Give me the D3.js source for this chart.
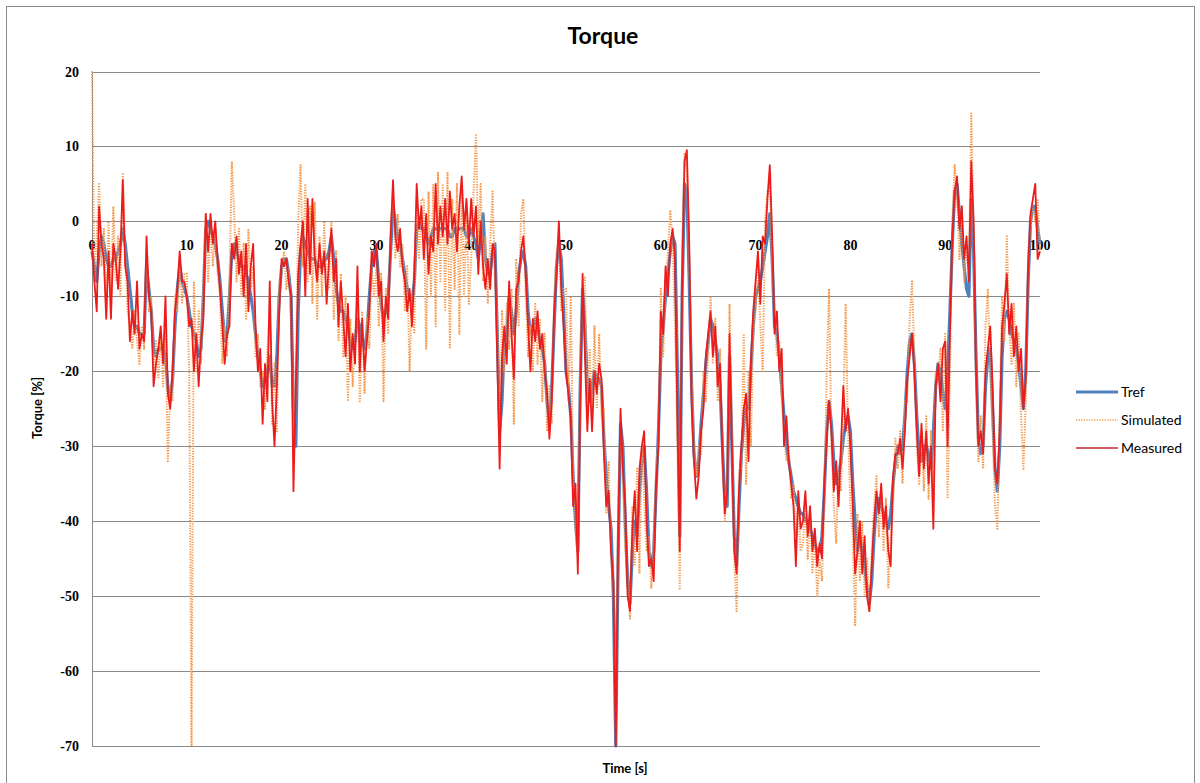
<!DOCTYPE html>
<html>
<head>
<meta charset="utf-8">
<script src="https://cdn.jsdelivr.net/npm/d3@7"></script>
<style>
  body { margin: 0; background: #fff; }
  text { fill: #000; }
</style>
</head>
<body>
<svg id="chart" width="1200" height="783"></svg>
<script>
// sample step of the recorded signals, seconds
const step = 0.25;

const seriesNames = ["Tref", "Simulated", "Measured"];
const xTicks = [0, 10, 20, 30, 40, 50, 60, 70, 80, 90, 100];
const yTicks = [20, 10, 0, -10, -20, -30, -40, -50, -60, -70];

const tref = [
  -4,-6,-8,-4,-2,-3,-5,-6,-6,-5,-5,-4,-3,-1,-3,-6,-9,-12,-14,-14,
  -15,-15,-15,-6,-9,-12,-17,-18,-17,-17,-17,-18,-22,-24,-21,-14,-9,-6,-8,-9,
  -10,-12,-14,-15,-16,-18,-17,-10,-1,0,-1,-2,-3,-5,-8,-12,-16,-15,-10,-4,
  -3,-4,-5,-6,-6,-7,-8,-10,-12,-15,-18,-20,-22,-21,-20,-18,-22,-22,-18,-10,
  -6,-5,-5,-7,-10,-25,-30,-12,-4,-2,-3,-4,-5,-5,-5,-6,-6,-6,-5,-5,
  -4,-2,-5,-9,-11,-12,-12,-13,-14,-16,-17,-16,-13,-14,-16,-17,-15,-10,-6,-4,
  -4,-8,-11,-13,-12,-10,-4,2,0,-2,-3,-5,-7,-9,-10,-11,-8,-1,0,-1,
  -1,-2,-3,-2,-1,-1,-1,-1,-1,-1,-1,-2,-2,-1,-1,-1,-1,-1,-2,-2,
  -1,-2,-3,-5,-2,1,-5,-7,-7,-4,-3,-15,-28,-24,-16,-15,-10,-12,-15,-12,
  -7,-5,-4,-6,-12,-15,-14,-13,-14,-16,-17,-19,-24,-27,-22,-14,-6,-3,-5,-12,
  -20,-22,-26,-34,-40,-44,-22,-9,-14,-22,-24,-22,-20,-21,-21,-22,-29,-34,-38,-41,
  -50,-70,-45,-27,-30,-40,-48,-51,-44,-40,-42,-36,-32,-30,-36,-44,-46,-44,-36,-28,
  -18,-14,-10,-7,-4,-2,-3,-20,-42,-10,5,4,-8,-22,-31,-34,-32,-27,-23,-19,
  -16,-13,-14,-16,-18,-22,-30,-37,-38,-18,-30,-42,-46,-38,-31,-27,-25,-25,-20,-14,
  -10,-9,-8,-6,-4,-2,1,-5,-14,-15,-18,-22,-26,-30,-32,-34,-36,-37,-38,-39,
  -39,-40,-40,-41,-42,-43,-44,-44,-42,-36,-28,-24,-27,-32,-35,-34,-32,-29,-27,-26,
  -28,-35,-40,-44,-42,-44,-46,-49,-51,-48,-42,-38,-37,-38,-39,-40,-41,-39,-35,-32,
  -30,-31,-30,-26,-20,-16,-15,-19,-26,-31,-32,-30,-30,-31,-33,-28,-22,-19,-20,-23,
  -25,-20,-12,-3,4,5,1,-3,-6,-9,-10,3,-4,-18,-29,-31,-30,-22,-18,-17,
  -25,-33,-36,-30,-18,-13,-12,-13,-15,-16,-17,-19,-22,-25,-20,-8,0,2,2,-1,
  -3
];

const simulated = [
  20,-8,-2,5,-6,-1,-12,0,-11,2,-8,-2,-10,6.5,-4,-12,-14,-17,-12,-16,
  -19,-14,-17,-4,-12,-10,-20,-16,-21,-15,-22,-14,-32,-22,-24,-10,-12,-6,-11,-7,
  -7,-20,-70,-8,-20,-12,-19,-8,1,-8,0,-6,-1,-7,-10,-19,-14,-18,-8,8,
  1,-8,-1,-10,-3,-13,-1,-9,-6,-18,-15,-22,-20,-25,-17,-12,-27,-19,-28,-8,
  -7,-4,-9,-6,-13,-30,-20,0,7.5,-6,5,-8,2,-11,2.5,-13,-2,-10,0,-9,
  -9,0,-13,-4,-16,-7,-18,-10,-24,-13,-22,-15,-9,-24,-12,-23,-13,-17,-6,-10,
  -6,-14,-7,-24,-9,-15,0,3,-5,1,-6,-3,-12,-6,-20,-10,-15,3,-5,3,
  3,-17,4,-10,5,-14,6.5,-8,5,-12,6.5,-17,3,-9,5,-15,4,-10,2,-11,
  -5,4,11.5,-3,5,-8,-2,-11,-3,4,-8,-13,-30,-12,-20,-11,-17,-9,-27,-5,
  -14,1,3,-10,-18,-14,-20,-11,-19,-13,-24,-15,-28,-22,-27,-10,-4,-2,-12,-9,
  -9,-24,-10,-33,-41,-45,-20,-8,-7.5,-25,-17,-27,-14,-25,-15,-26,-25,-39,-32,-45,
  -48,-62,-38,-27,-35,-44,-47,-53,-38,-46,-33,-47,-30,-37,-44,-42,-49,-43,-33,-29,
  -9,-18,-8,-4,1.5,-3,-14,-30,-49,-5,9,7,-5,-20,-30,-34,-30,-31,-20,-24,
  -18,-10,-19,-13,-24,-17,-32,-40,-34,-11,-28,-45,-52,-33,-33,-15,-35,-20,-30,-15,
  -12,-6,-14,-20,0,4,5,-8,-12,-18,-16,-24,-28,-32,-30,-37,-35,-42,-38,-44,
  -43,-38,-45,-39,-47,-42,-50,-45,-48,-38,-20,-9,-30,-38,-43,-33,-36,-25,-11,-28,
  -38,-42,-54,-39,-48,-40,-50,-45,-52,-44,-38,-34,-42,-36,-44,-37,-49,-42,-38,-29,
  -33,-28,-35,-24,-24,-13,-8,-18,-30,-35,-28,-36,-26,-37,-28,-39,-20,-21,-17,-28,
  -15,-37,-20,0,7.5,3,-5,2,-8,-4,-6,14.4,-2,-22,-32,-26,-33,-14,-9,-20,
  -28,-38,-41,-25,-10,-16,-2,-14,-19,-11,-22,-15,-26,-33,-24,-4,-1,2,0,3,
  -4
];

const measured = [
  -3,-8,-12,2,-3,-5,-13,-4,-13,-3,-5,-9,-4,5.5,-6,-8,-16,-12,-15,-8,
  -17,-15,-16,-2,-10,-12,-22,-19,-17,-14,-19,-10,-23,-25,-20,-12,-9,-4,-8,-8,
  -10,-14,-13,-20,-15,-22,-16,-13,1,-4,1,-3,0,-5,-9,-14,-19,-15,-14,-3,
  -5,-2,-7,-4,-10,-3,-12,-6,-3,-14,-20,-17,-27,-19,-24,-8,-24,-30,-22,-12,
  -5,-6,-5,-8,-10,-36,-22,-7,-3,0,-10,3,-7,3,-5,-8,-3,-7,-4,-11,
  -5,-1,-8,-5,-14,-8,-13,-18,-11,-20,-15,-19,-6,-20,-13,-20,-16,-12,-4,-6,
  -3,-10,-8,-16,-10,-13,-2,5.5,-2,-4,-1,-6,-8,-12,-9,-14,-7,5,-1,2,
  -5,1,-7,-2,-4,5,-3,2,-2,3,-3,4,-1,1,-4,2,6,-1,3,-3,
  3,-2,2,-7,0,-6,-9,-5,-9,-3,-4,-18,-33,-18,-14,-19,-8,-15,-21,-9,
  -8,-4,-2,-7,-14,-20,-13,-16,-12,-17,-15,-20,-23,-29,-24,-12,-7,0,-9,-14,
  -20,-23,-26,-38,-35,-47,-24,-7,-18,-28,-21,-28,-20,-23,-19,-21,-31,-38,-36,-44,
  -48,-70,-42,-25,-33,-38,-50,-52,-41,-36,-44,-33,-30,-28,-40,-46,-45,-48,-35,-30,
  -12,-15,-6,-10,-3,-1,-5,-26,-44,-8,8,9.5,-3,-24,-32,-37,-34,-28,-25,-18,
  -15,-12,-18,-14,-22,-19,-31,-39,-36,-15,-30,-44,-47,-36,-30,-25,-23,-32,-19,-12,
  -8,-4,-11,-2,-3,3,7.5,-2,-15,-12,-20,-17,-30,-26,-32,-35,-38,-46,-36,-41,
  -40,-36,-42,-38,-44,-41,-46,-43,-45,-35,-29,-24,-28,-36,-32,-38,-30,-22,-28,-25,
  -30,-38,-47,-44,-40,-47,-42,-50,-52,-46,-40,-36,-39,-35,-41,-38,-44,-46,-34,-31,
  -31,-29,-33,-28,-21,-18,-15,-20,-28,-34,-27,-33,-28,-35,-30,-41,-22,-19,-24,-17,
  -16,-30,-15,-2,4,6,-1,2,-5,-2,-8,8,0,-20,-30,-28,-31,-20,-17,-14,
  -22,-33,-35,-28,-14,-11,-7,-15,-11,-18,-14,-20,-17,-25,-21,-6,1,3,5,-5,
  -4
];

const svg = d3.select("#chart");

// outer chart frame
svg.append("rect")
    .attr("x", 6.5).attr("y", 6.5)
    .attr("width", 1188).attr("height", 800)
    .attr("fill", "#fff")
    .attr("stroke", "#8c8c8c");

const x = d3.scaleLinear().domain([0, 100]).range([92, 1040]);
const y = d3.scaleLinear().domain([-70, 20]).range([746, 71.5]);

// horizontal gridlines
svg.append("g")
    .selectAll("line")
    .data(yTicks)
    .join("line")
    .attr("x1", x(0)).attr("x2", x(100))
    .attr("y1", d => Math.round(y(d)) + 0.5)
    .attr("y2", d => Math.round(y(d)) + 0.5)
    .attr("stroke", "#8a8a8a")
    .attr("stroke-width", 1);

// value axis line
svg.append("line")
    .attr("x1", x(0) + 0.5).attr("x2", x(0) + 0.5)
    .attr("y1", y(20)).attr("y2", y(-70))
    .attr("stroke", "#8a8a8a");

svg.append("g")
    .selectAll("text")
    .data(yTicks)
    .join("text")
    .attr("x", 79)
    .attr("y", d => y(d) + 5)
    .attr("text-anchor", "end")
    .style("font-family", "'Liberation Serif', serif")
    .style("font-weight", "bold")
    .style("font-size", "14px")
    .text(d => d);

svg.append("g")
    .selectAll("text")
    .data(xTicks)
    .join("text")
    .attr("x", d => x(d))
    .attr("y", y(0) + 29)
    .attr("text-anchor", "middle")
    .style("font-family", "'Liberation Serif', serif")
    .style("font-weight", "bold")
    .style("font-size", "14px")
    .text(d => d);

function drawSeries(values, color, width, dash) {
    const line = d3.line()
        .x((d, i) => x(i * step))
        .y(d => y(d));
    const path = svg.append("path")
        .datum(values)
        .attr("d", line)
        .attr("fill", "none")
        .attr("stroke", color)
        .attr("stroke-width", width)
        .attr("stroke-linejoin", "round");
    if (dash) path.attr("stroke-dasharray", dash);
}

const colors = { Tref: "#4f81bd", Simulated: "#f79646", Measured: "#ec1c1c" };
const widths = { Tref: 3.2, Simulated: 2, Measured: 1.8 };
const dashes = { Tref: null, Simulated: "1.2,1.4", Measured: null };

drawSeries(tref, colors.Tref, widths.Tref, dashes.Tref);
drawSeries(simulated, colors.Simulated, widths.Simulated, dashes.Simulated);
drawSeries(measured, colors.Measured, widths.Measured, dashes.Measured);

// titles
svg.append("text")
    .attr("x", 603).attr("y", 44)
    .attr("text-anchor", "middle")
    .style("font-family", "Lato, sans-serif")
    .style("font-weight", "bold")
    .style("font-size", "23px")
    .text("Torque");

svg.append("text")
    .attr("transform", "translate(42,408) rotate(-90)")
    .attr("text-anchor", "middle")
    .style("font-family", "Lato, sans-serif")
    .style("font-weight", "bold")
    .style("font-size", "13px")
    .text("Torque [%]");

svg.append("text")
    .attr("x", 625).attr("y", 773)
    .attr("text-anchor", "middle")
    .style("font-family", "Lato, sans-serif")
    .style("font-weight", "bold")
    .style("font-size", "13px")
    .text("Time [s]");

// legend
const legend = svg.append("g")
    .selectAll("g")
    .data(seriesNames)
    .join("g")
    .attr("transform", (d, i) => `translate(1076,${392 + i * 28})`);

legend.append("line")
    .attr("x1", 0).attr("x2", 42)
    .attr("y1", 0).attr("y2", 0)
    .attr("stroke", d => d === "Measured" ? "#c0282d" : colors[d])
    .attr("stroke-width", d => d === "Tref" ? 3 : 1.5)
    .attr("stroke-dasharray", d => dashes[d]);

legend.append("text")
    .attr("x", 45).attr("y", 5)
    .style("font-family", "Lato, sans-serif")
    .style("font-size", "14px")
    .text(d => d);
</script>
</body>
</html>
